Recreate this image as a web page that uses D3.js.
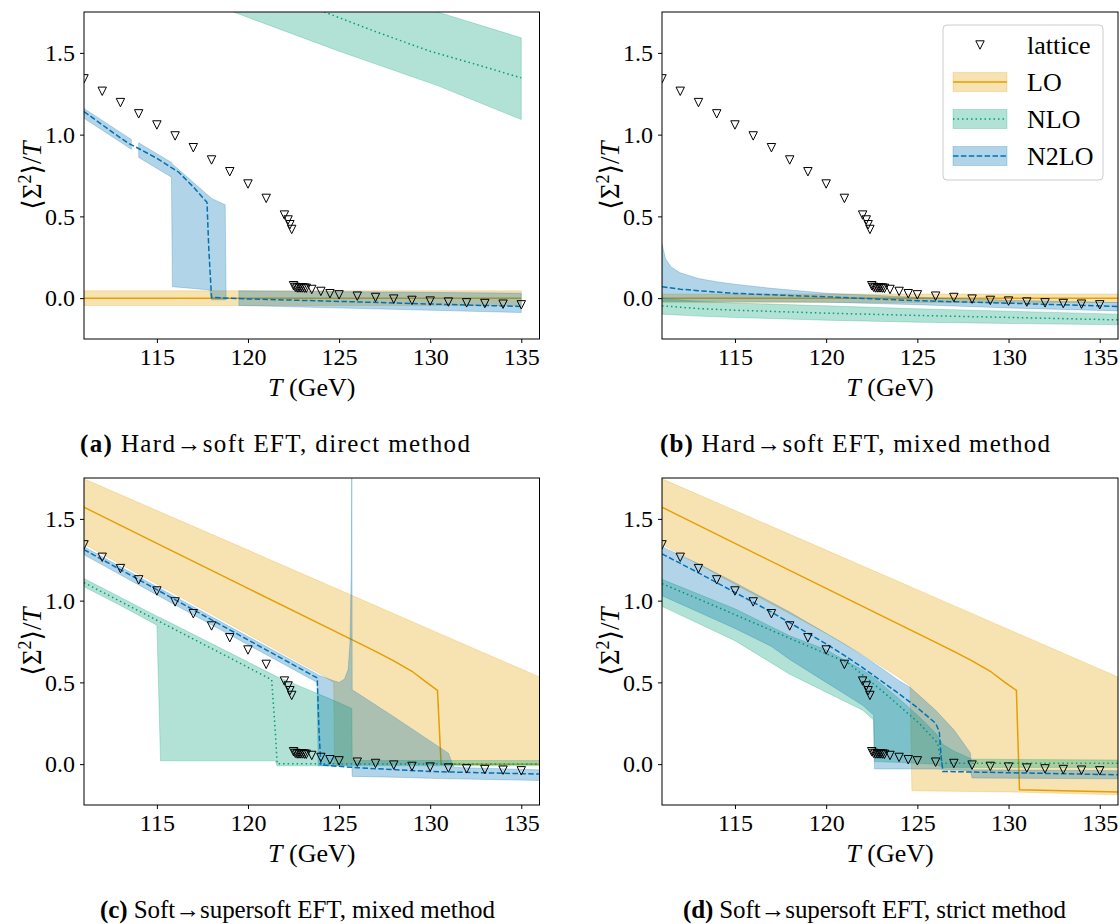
<!DOCTYPE html>
<html>
<head>
<meta charset="utf-8">
<script src="https://cdn.jsdelivr.net/npm/d3@7"></script>
<style>
  body { margin: 0; background: #fff; }
  text { font-family: "Liberation Serif", "DejaVu Serif", serif; }
</style>
</head>
<body>
<script>
// lattice points (same in every panel)
var latticeT = [111,112,113,114,115,116,117,118,119,120,121,122,122.2,122.3,122.4,
  122.5,122.6,122.7,122.8,122.9,123,123.1,123.2,123.5,124,124.5,125,126,127,128,129,130,131,132,133,134,135];
var latticeY = [1.341,1.265,1.196,1.127,1.059,0.992,0.920,0.845,0.773,0.698,0.610,0.508,0.478,0.449,0.420,
  0.076,0.066,0.062,0.062,0.062,0.062,0.061,0.060,0.053,0.041,0.027,0.020,0.012,0.004,-0.006,-0.014,-0.018,-0.024,-0.029,-0.033,-0.037,-0.041];

var xTicks = [115, 120, 125, 130, 135];
var yTicks = [0, 0.5, 1.0, 1.5];

// (a) hard->soft, direct method.  line: [T, value]; band: [T, low, high], null = gap
var aLoLine = [[111,0],[135,0]];
var aLoBand = [[111,-0.045,0.045],[135,-0.045,0.045]];
var aNloLine = [[120,1.92],[124.2,1.75],[127,1.63],[130,1.51],[132.5,1.43],[135,1.347]];
var aNloBand = [[111,2.2,2.6],[119.2,1.75,2.1],[125,1.51,1.93],[130.4,1.30,1.75],[135,1.092,1.592]];
var aN2loLine = [[111,1.141],[112,1.06],[113,0.98],[113.5,0.943],[114,0.915],[115,0.855],[116.2,0.77],
  [117,0.68],[117.75,0.586],[117.85,0.3],[118,0.004],[120,-0.005],[125,-0.02],[130,-0.036],[135,-0.051]];
var aN2loBand = [[111,1.10,1.16],[113.6,0.91,0.97],null,
  [114,0.86,0.95],[115.8,0.74,0.83],[115.85,0.07,0.82],[117.9,0.05,0.62],[118,-0.01,0.61],[118.75,-0.01,0.571],[118.8,-0.01,0.02],null,
  [119.5,-0.045,0.045],[135,-0.088,0.03]];

// (b) hard->soft, mixed method
var bLoLine = [[111,0],[136,0]];
var bLoBand = [[111,-0.027,0.025],[136,-0.027,0.025]];
var bNloLine = [[111,-0.047],[113,-0.064],[115,-0.074],[120,-0.092],[125,-0.106],[130,-0.118],[136,-0.133]];
var bNloBand = [[111,-0.098,0.0],[113,-0.11,-0.02],[115,-0.118,-0.03],[120,-0.135,-0.047],[125,-0.147,-0.065],[130,-0.155,-0.08],[136,-0.163,-0.098]];
var bN2loLine = [[111,0.069],[112,0.055],[113,0.045],[115,0.029],[117.5,0.018],[120,0.008],[125,-0.016],[130,-0.031],[136,-0.051]];
var bN2loBand = [[111,-0.02,0.33],[111.2,-0.02,0.24],[111.5,-0.02,0.19],[112,-0.02,0.155],[113,-0.02,0.12],[114,-0.02,0.10],
  [115,-0.02,0.085],[117,-0.022,0.06],[120,-0.025,0.03],[125,-0.04,0.005],[130,-0.06,-0.013],[136,-0.078,-0.027]];

// (c) soft->supersoft, mixed method
var cLoLine = [[111,1.571],[115,1.35],[120,1.075],[125.7,0.761],[127,0.69],[128,0.632],[129,0.568],[129.8,0.5],[130.4,0.451],[130.6,0.0],[136,0.0]];
var cLoBand = [[111,1.345,1.745],[115,1.10,1.551],[120,0.795,1.309],[122,0.67,1.212],[124,0.55,1.115],[124.7,0.50,1.081],
  [124.75,0.0,1.078],[131,0.0,0.775],[136,0.0,0.533]];
var cNloLine = [[111,1.11],[113,0.995],[115,0.88],[117,0.765],[119,0.65],[121.3,0.516],[121.5,0.2],[121.6,0.002],[136,0.0]];
var cNloBand = [[111,1.085,1.135],[113,0.97,1.02],[115,0.85,0.905],[115.2,0.02,0.895],[121.5,0.02,0.54],[121.6,-0.01,0.535],
  [124.7,-0.01,0.39],[125.7,-0.01,0.34],[125.72,-0.01,0.022],[136,-0.01,0.022]];
var cN2loLine = [[111,1.312],[115,1.067],[120,0.76],[123.8,0.527],[123.9,0.2],[124,-0.005],[126,-0.022],[130,-0.045],[136,-0.061]];
var cN2loBand = [[111,1.28,1.33],[115,1.035,1.085],[120,0.73,0.78],[123.8,0.50,0.55],[123.85,-0.01,0.545],[124.7,-0.01,0.51],
  [125,-0.01,0.50],[125.3,-0.01,0.52],[125.5,-0.01,0.58],[125.6,-0.01,0.75],[125.67,-0.01,1.2],[125.7,-0.01,2.0],
  [125.72,-0.075,0.455],[128,-0.08,0.29],[131,-0.09,0.067],[131.3,-0.09,-0.02],[136,-0.10,-0.035]];

// (d) soft->supersoft, strict method
var dLoLine = [[111,1.571],[115,1.35],[120,1.075],[125.7,0.761],[127,0.69],[128,0.632],[129,0.568],[129.8,0.5],[130.43,0.451],[130.6,-0.157],[136,-0.171]];
var dLoBand = [[111,1.345,1.745],[115,1.10,1.551],[120,0.80,1.309],[122,0.67,1.212],[124,0.53,1.115],[124.6,0.48,1.086],
  [124.7,-0.163,1.081],[130,-0.17,0.824],[136,-0.188,0.533]];
var dNloLine = [[111,1.104],[113,1.01],[115,0.914],[118,0.77],[120,0.675],[121.2,0.62],[123.2,0.435],[125.1,0.25],[126.1,0.13],[126.35,0.006],[136,0.006]];
var dNloBand = [[111,0.965,1.13],[115,0.755,0.95],[118,0.55,0.785],[120,0.44,0.70],[122,0.33,0.575],[122.6,0.27,0.53],
  [122.65,0.016,0.525],[124,0.01,0.40],[125,0.005,0.30],[126,0.0,0.19],[126.4,-0.02,0.12],[127,-0.02,0.08],[128,-0.02,0.03],[136,-0.02,0.025]];
var dN2loLine = [[111,1.286],[113,1.17],[115,1.05],[116,0.99],[117,0.93],[118,0.865],[119,0.80],[120,0.735],[121,0.665],[122,0.59],
  [123,0.51],[124,0.43],[125,0.345],[126,0.25],[126.2,0.2],[126.3,0.05],[126.4,-0.045],[136,-0.065]];
var dN2loBand = [[111,1.03,1.33],[113,0.93,1.225],[115,0.83,1.11],[117,0.72,0.99],[118,0.64,0.93],[119,0.57,0.865],[120,0.50,0.80],[121,0.43,0.735],
  [122,0.36,0.665],[122.6,0.30,0.62],[122.65,-0.03,0.615],[123,-0.03,0.59],[124,-0.03,0.51],[124.6,-0.03,0.47],[125,-0.03,0.43],
  [126,-0.03,0.33],[127,-0.035,0.21],[127.9,-0.04,0.07],[128,-0.085,-0.035],[136,-0.09,-0.04]];

var captions = [
  ["(a)", " Hard\u2192soft EFT, direct method"],
  ["(b)", " Hard\u2192soft EFT, mixed method"],
  ["(c)", " Soft\u2192supersoft EFT, mixed method"],
  ["(d)", " Soft\u2192supersoft EFT, strict method"]
];
var legendNames = ["lattice", "LO", "NLO", "N2LO"];

var ORANGE = "#E69F00", GREEN = "#009E73", BLUE = "#0072B2";
var styles = {
  lo:   {color: ORANGE, dash: null},
  nlo:  {color: GREEN,  dash: "1.5,3"},
  n2lo: {color: BLUE,   dash: "5.5,2.4"}
};

var panels = [
  {id: "a", left: 84,  right: 539.5, top: 12,  bottom: 339, capL: 80,  capR: 470, capY: 452,
   lo: [aLoLine, aLoBand], nlo: [aNloLine, aNloBand], n2lo: [aN2loLine, aN2loBand]},
  {id: "b", left: 662, right: 1118,  top: 12,  bottom: 339, capL: 660, capR: 1050, capY: 452, legend: true,
   lo: [bLoLine, bLoBand], nlo: [bNloLine, bNloBand], n2lo: [bN2loLine, bN2loBand]},
  {id: "c", left: 84,  right: 539.5, top: 478, bottom: 805, capL: 100, capR: 495, capY: 918,
   lo: [cLoLine, cLoBand], nlo: [cNloLine, cNloBand], n2lo: [cN2loLine, cN2loBand]},
  {id: "d", left: 662, right: 1118,  top: 478, bottom: 805, capL: 683, capR: 1066, capY: 918,
   lo: [dLoLine, dLoBand], nlo: [dNloLine, dNloBand], n2lo: [dN2loLine, dN2loBand]}
];

var svg = d3.select("body").append("svg")
    .attr("width", 1120)
    .attr("height", 924);

var defs = svg.append("defs");

// downward triangle marker path centred at 0,0
var triPath = function(s) {
  return "M" + (-s) + "," + (-s) + "L" + s + "," + (-s) + "L0," + s + "Z";
};

var drawPanel = function(p, i) {
  var x = d3.scaleLinear().domain([111, 136]).range([p.left, p.right]);
  var y = d3.scaleLinear().domain([-0.25, 1.75]).range([p.bottom, p.top]);

  defs.append("clipPath").attr("id", "clip-" + p.id)
    .append("rect")
    .attr("x", p.left).attr("y", p.top)
    .attr("width", p.right - p.left).attr("height", p.bottom - p.top);

  var g = svg.append("g");
  var plot = g.append("g").attr("clip-path", "url(#clip-" + p.id + ")");

  var area = d3.area()
    .defined(function(d) { return d !== null; })
    .x(function(d) { return x(d[0]); })
    .y0(function(d) { return y(d[1]); })
    .y1(function(d) { return y(d[2]); });
  var line = d3.line()
    .x(function(d) { return x(d[0]); })
    .y(function(d) { return y(d[1]); });

  ["lo", "nlo", "n2lo"].forEach(function(k) {
    var st = styles[k];
    plot.append("path")
      .attr("d", area(p[k][1]))
      .attr("fill", st.color).attr("fill-opacity", 0.3)
      .attr("stroke", st.color).attr("stroke-opacity", 0.3)
      .attr("stroke-width", 0.8);
    plot.append("path")
      .attr("d", line(p[k][0]))
      .attr("fill", "none")
      .attr("stroke", st.color)
      .attr("stroke-width", 1.5)
      .attr("stroke-dasharray", st.dash);
  });

  // lattice
  plot.selectAll("path.lat")
    .data(latticeT)
    .enter().append("path")
    .attr("class", "lat")
    .attr("d", triPath(4.2))
    .attr("transform", function(d, j) { return "translate(" + x(d) + "," + y(latticeY[j]) + ")"; })
    .attr("fill", "none")
    .attr("stroke", "#000")
    .attr("stroke-width", 1);

  // axes
  var xAxis = g.append("g")
    .attr("transform", "translate(0," + p.bottom + ")")
    .call(d3.axisBottom(x).tickValues(xTicks).tickSize(4).tickPadding(5).tickFormat(d3.format("d")));
  var yAxis = g.append("g")
    .attr("transform", "translate(" + p.left + ",0)")
    .call(d3.axisLeft(y).tickValues(yTicks).tickSize(4).tickPadding(5).tickFormat(d3.format(".1f")));
  [xAxis, yAxis].forEach(function(ax) {
    ax.select(".domain").remove();
    ax.attr("font-family", null);
    ax.selectAll("text").attr("font-size", 24).attr("fill", "#000");
    ax.selectAll("line").attr("stroke", "#000");
  });

  g.append("rect")
    .attr("x", p.left).attr("y", p.top)
    .attr("width", p.right - p.left).attr("height", p.bottom - p.top)
    .attr("fill", "none").attr("stroke", "#000").attr("stroke-width", 1);

  // x label
  var xl = g.append("text")
    .attr("x", (p.left + p.right) / 2).attr("y", p.bottom + 57)
    .attr("text-anchor", "middle").attr("font-size", 26);
  xl.append("tspan").attr("font-style", "italic").text("T");
  xl.append("tspan").text(" (GeV)");

  // y label
  var yl = g.append("text")
    .attr("transform", "translate(" + (p.left - 43) + "," + ((p.top + p.bottom) / 2) + ") rotate(-90)")
    .attr("text-anchor", "middle").attr("font-size", 27);
  yl.append("tspan").text("\u27E8\u03A3");
  yl.append("tspan").attr("dy", -10).attr("font-size", 18).text("2");
  yl.append("tspan").attr("dy", 10).text("\u27E9/");
  yl.append("tspan").attr("font-style", "italic").text("T");

  // caption, stretched to the width it has in the figure
  var cap = svg.append("text")
    .attr("x", p.capL).attr("y", p.capY)
    .attr("font-size", 25);
  cap.append("tspan").attr("font-weight", "bold").text(captions[i][0]);
  cap.append("tspan").text(captions[i][1]);
  var w = cap.node().getComputedTextLength();
  var n = (captions[i][0] + captions[i][1]).length;
  cap.attr("letter-spacing", ((p.capR - p.capL) - w) / (n - 1));

  if (p.legend) {
    var lg = g.append("g");
    lg.append("rect")
      .attr("x", 943).attr("y", 25).attr("width", 160).attr("height", 155)
      .attr("rx", 4)
      .attr("fill", "#fff").attr("fill-opacity", 0.8)
      .attr("stroke", "#ccc").attr("stroke-width", 1);
    var rowY = [45, 82, 119, 156];
    lg.append("path")
      .attr("d", triPath(4.2))
      .attr("transform", "translate(980," + rowY[0] + ")")
      .attr("fill", "none").attr("stroke", "#000");
    ["lo", "nlo", "n2lo"].forEach(function(k, j) {
      var st = styles[k], yy = rowY[j + 1];
      lg.append("rect")
        .attr("x", 953).attr("y", yy - 9.5).attr("width", 54).attr("height", 19)
        .attr("fill", st.color).attr("fill-opacity", 0.3)
        .attr("stroke", st.color).attr("stroke-opacity", 0.3).attr("stroke-width", 0.8);
      lg.append("line")
        .attr("x1", 953).attr("x2", 1007).attr("y1", yy).attr("y2", yy)
        .attr("stroke", st.color).attr("stroke-width", 1.5)
        .attr("stroke-dasharray", st.dash);
    });
    lg.selectAll("text.lgt")
      .data(legendNames)
      .enter().append("text")
      .attr("class", "lgt")
      .attr("x", 1027)
      .attr("y", function(d, j) { return rowY[j] + 9; })
      .attr("font-size", 26)
      .text(function(d) { return d; });
  }
};

panels.forEach(drawPanel);
</script>
</body>
</html>
